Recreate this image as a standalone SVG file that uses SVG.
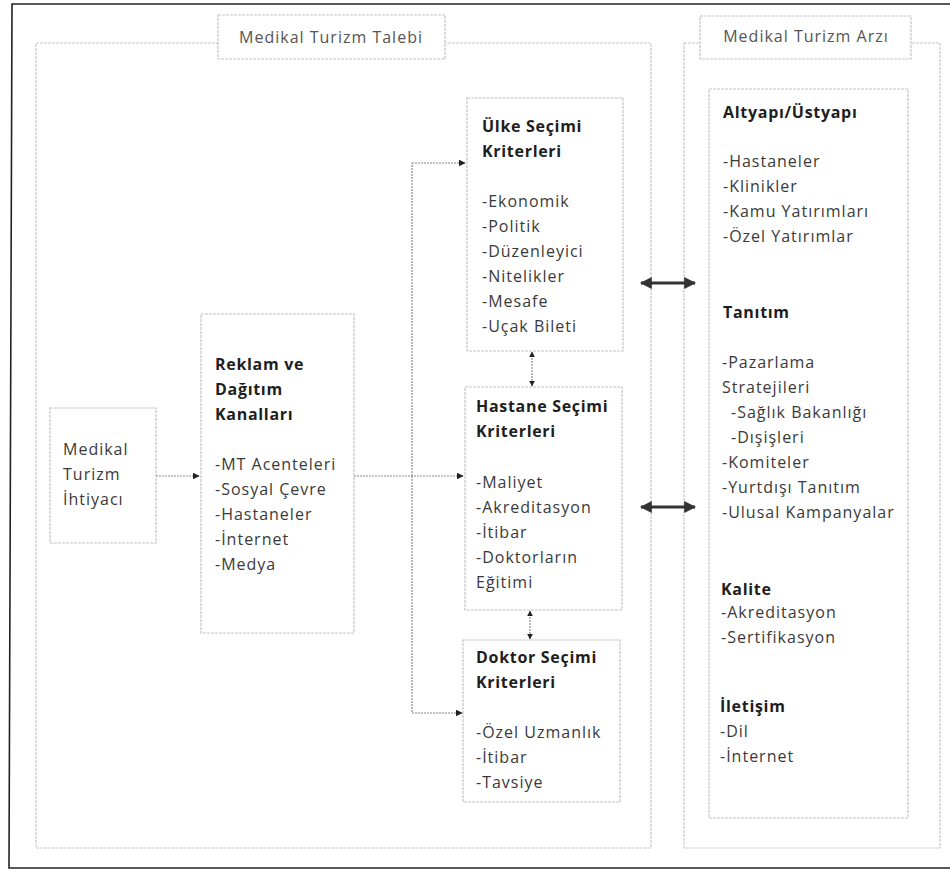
<svg xmlns="http://www.w3.org/2000/svg" width="950" height="873" viewBox="0 0 950 873">
  <style>
    .frame { fill: none; stroke: #222; stroke-width: 1.6; }
    .panel { fill: #fff; stroke: #c8c8c8; stroke-width: 1.2; stroke-dasharray: 3 1; }
    .box { fill: #fff; stroke: #c4c4c4; stroke-width: 1.2; stroke-dasharray: 3 1; }
    .link { fill: none; stroke: #8a8a8a; stroke-width: 1.2; stroke-dasharray: 2 1; }
    .txt { font-family: "Open Sans", "Noto Sans", sans-serif; font-size: 16px; letter-spacing: 1px; fill: #3a3a3a; }
    .title { font-family: "Open Sans", "Noto Sans", sans-serif; font-size: 16px; letter-spacing: 1px; fill: #555; }
    .head { font-family: "Open Sans", "Noto Sans", sans-serif; font-size: 16px; letter-spacing: 0.7px; font-weight: bold; fill: #1e1e1e; }
  </style>
  <defs>
    <marker id="tip" viewBox="0 0 10 10" refX="9" refY="5" markerWidth="7" markerHeight="7" markerUnits="userSpaceOnUse" orient="auto">
      <path d="M0,0 L10,5 L0,10 Z" fill="#222"/>
    </marker>
    <marker id="tipSmall" viewBox="0 0 10 10" refX="9" refY="5" markerWidth="6" markerHeight="6" markerUnits="userSpaceOnUse" orient="auto-start-reverse">
      <path d="M0,0 L10,5 L0,10 Z" fill="#222"/>
    </marker>
    <marker id="tipBold" viewBox="0 0 10 10" refX="9" refY="5" markerWidth="12" markerHeight="12" markerUnits="userSpaceOnUse" orient="auto-start-reverse">
      <path d="M0,0 L10,5 L0,10 Z" fill="#333"/>
    </marker>
  </defs>

  <rect width="950" height="873" fill="#fff"/>

  <!-- outer frame (open on the right) -->
  <path class="frame" d="M960,4 L12,4 L9,868 L960,868"/>

  <!-- demand panel -->
  <g id="panel-talebi">
    <rect class="panel" x="36" y="43" width="615" height="805"/>
    <rect class="box" x="218" y="15" width="227" height="44"/>
    <text class="title" x="331" y="43" text-anchor="middle">Medikal Turizm Talebi</text>
  </g>

  <!-- supply panel -->
  <g id="panel-arzi">
    <rect class="panel" x="684" y="43" width="256" height="805"/>
    <rect class="box" x="700" y="16" width="211" height="43"/>
    <text class="title" x="806" y="42" text-anchor="middle">Medikal Turizm Arzı</text>
  </g>

  <!-- connectors -->
  <g id="connectors">
    <line class="link" x1="156" y1="476" x2="199" y2="476" marker-end="url(#tip)"/>
    <line class="link" x1="354" y1="476" x2="463" y2="476" marker-end="url(#tip)"/>
    <path class="link" d="M412,476 L412,163"/>
    <line class="link" x1="412" y1="163" x2="465" y2="163" marker-end="url(#tip)"/>
    <path class="link" d="M412,476 L412,713"/>
    <line class="link" x1="412" y1="713" x2="462" y2="713" marker-end="url(#tip)"/>
    <line class="link" x1="532" y1="352" x2="532" y2="386" marker-start="url(#tipSmall)" marker-end="url(#tipSmall)"/>
    <line class="link" x1="530" y1="611" x2="530" y2="639" marker-start="url(#tipSmall)" marker-end="url(#tipSmall)"/>
    <line x1="641" y1="283" x2="695" y2="283" stroke="#333" stroke-width="3" marker-start="url(#tipBold)" marker-end="url(#tipBold)"/>
    <line x1="641" y1="507" x2="695" y2="507" stroke="#333" stroke-width="3" marker-start="url(#tipBold)" marker-end="url(#tipBold)"/>
  </g>

  <g id="ihtiyac">
    <rect class="box" x="50" y="408" width="106" height="135"/>
    <text class="txt" x="63" y="455">Medikal</text>
    <text class="txt" x="63" y="480">Turizm</text>
    <text class="txt" x="63" y="505">İhtiyacı</text>
  </g>

  <g id="reklam">
    <rect class="box" x="201" y="314" width="153" height="319"/>
    <text class="head" x="215" y="370">Reklam ve</text>
    <text class="head" x="215" y="395">Dağıtım</text>
    <text class="head" x="215" y="420">Kanalları</text>
    <text class="txt" x="215" y="470">-MT Acenteleri</text>
    <text class="txt" x="215" y="495">-Sosyal Çevre</text>
    <text class="txt" x="215" y="520">-Hastaneler</text>
    <text class="txt" x="215" y="545">-İnternet</text>
    <text class="txt" x="215" y="570">-Medya</text>
  </g>

  <g id="ulke">
    <rect class="box" x="467" y="98" width="156" height="253"/>
    <text class="head" x="482" y="132">Ülke Seçimi</text>
    <text class="head" x="482" y="157">Kriterleri</text>
    <text class="txt" x="482" y="207">-Ekonomik</text>
    <text class="txt" x="482" y="232">-Politik</text>
    <text class="txt" x="482" y="257">-Düzenleyici</text>
    <text class="txt" x="482" y="282">-Nitelikler</text>
    <text class="txt" x="482" y="307">-Mesafe</text>
    <text class="txt" x="482" y="332">-Uçak Bileti</text>
  </g>

  <g id="hastane">
    <rect class="box" x="465" y="387" width="157" height="223"/>
    <text class="head" x="476" y="412">Hastane Seçimi</text>
    <text class="head" x="476" y="437">Kriterleri</text>
    <text class="txt" x="476" y="488">-Maliyet</text>
    <text class="txt" x="476" y="513">-Akreditasyon</text>
    <text class="txt" x="476" y="538">-İtibar</text>
    <text class="txt" x="476" y="563">-Doktorların</text>
    <text class="txt" x="476" y="588">Eğitimi</text>
  </g>

  <g id="doktor">
    <rect class="box" x="463" y="640" width="157" height="162"/>
    <text class="head" x="476" y="663">Doktor Seçimi</text>
    <text class="head" x="476" y="688">Kriterleri</text>
    <text class="txt" x="476" y="738">-Özel Uzmanlık</text>
    <text class="txt" x="476" y="763">-İtibar</text>
    <text class="txt" x="476" y="788">-Tavsiye</text>
  </g>

  <g id="arz">
    <rect class="box" x="709" y="89" width="199" height="729"/>
    <text class="head" x="723" y="118">Altyapı/Üstyapı</text>
    <text class="txt" x="723" y="167">-Hastaneler</text>
    <text class="txt" x="723" y="192">-Klinikler</text>
    <text class="txt" x="723" y="217">-Kamu Yatırımları</text>
    <text class="txt" x="723" y="242">-Özel Yatırımlar</text>
    <text class="head" x="723" y="318">Tanıtım</text>
    <text class="txt" x="722" y="368">-Pazarlama</text>
    <text class="txt" x="722" y="393">Stratejileri</text>
    <text class="txt" x="731" y="418">-Sağlık Bakanlığı</text>
    <text class="txt" x="731" y="443">-Dışişleri</text>
    <text class="txt" x="722" y="468">-Komiteler</text>
    <text class="txt" x="722" y="493">-Yurtdışı Tanıtım</text>
    <text class="txt" x="722" y="518">-Ulusal Kampanyalar</text>
    <text class="head" x="721" y="595">Kalite</text>
    <text class="txt" x="721" y="618">-Akreditasyon</text>
    <text class="txt" x="721" y="643">-Sertifikasyon</text>
    <text class="head" x="720" y="712">İletişim</text>
    <text class="txt" x="720" y="737">-Dil</text>
    <text class="txt" x="720" y="762">-İnternet</text>
  </g>
</svg>
